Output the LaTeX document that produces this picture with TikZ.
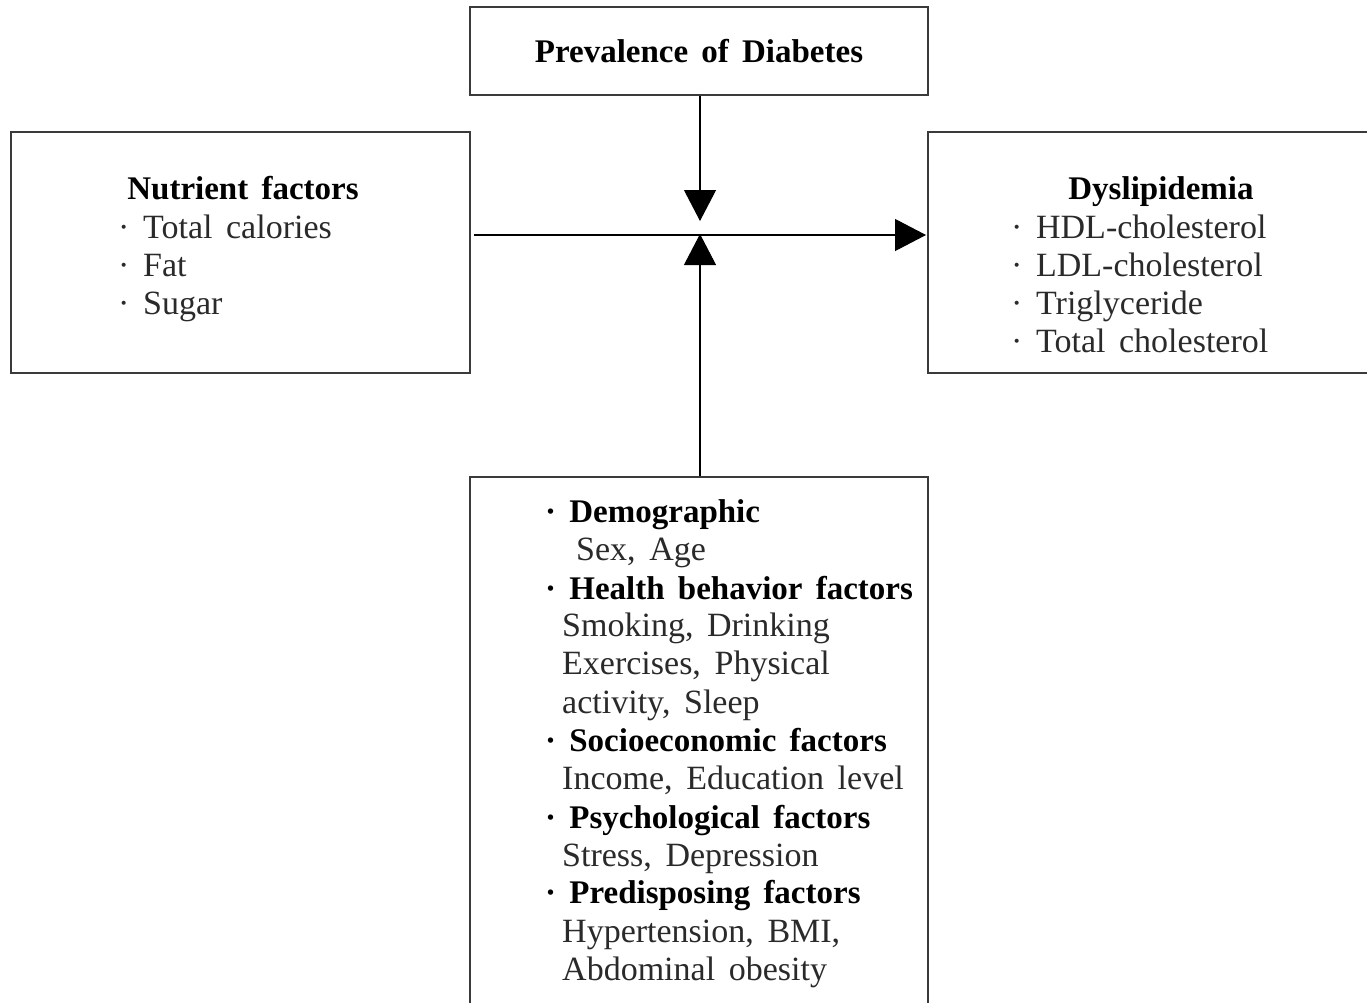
\documentclass[tikz,border=0pt]{standalone}
\usepackage{fontspec}
\setmainfont{Liberation Serif}[WordSpace=1.6]
\usetikzlibrary{arrows.meta}
\definecolor{txt}{HTML}{2A2A2A}
\definecolor{frame}{HTML}{3A3A3A}
\tikzset{
  box/.style={draw=frame, line width=1.1pt, inner sep=0pt},
  hd/.style={inner sep=0pt, anchor=base, font=\fontsize{33}{38}\selectfont\bfseries, text=black},
  hb/.style={inner sep=0pt, anchor=base west, font=\fontsize{33}{38}\selectfont\bfseries, text=black},
  ln/.style={inner sep=0pt, anchor=base west, font=\fontsize{34}{38}\selectfont, text=txt},
  conn/.style={line width=1.1pt, draw=black},
  tip/.style={-{Triangle[length=31pt,width=32pt]}}
}
\begin{document}
\begin{tikzpicture}[x=1pt,y=-1pt]
\useasboundingbox (0,0) rectangle (1367,1002);
\clip (0,0) rectangle (1367,1002);
% boxes
\node[box, minimum width=458pt, minimum height=88pt] (top) at (699,51) {};
\node[box, minimum width=459pt, minimum height=241pt] (left) at (240.5,252.5) {};
\node[box, minimum width=472pt, minimum height=241pt] (right) at (1164,252.5) {};
\node[box, minimum width=458pt, minimum height=563pt] (bottom) at (699,758.5) {};
% texts
\node[hd] (t1) at (699,62) {Prevalence of Diabetes};
\node[hd] (l0) at (243,199) {Nutrient factors};
\node[ln] (l1) at (118,238) {·\ Total calories};
\node[ln] (l2) at (118,276) {·\ Fat};
\node[ln] (l3) at (118,314) {·\ Sugar};
\node[hd] (r0) at (1161,199) {Dyslipidemia};
\node[ln] (r1) at (1011,238) {·\ HDL-cholesterol};
\node[ln] (r2) at (1011,276) {·\ LDL-cholesterol};
\node[ln] (r3) at (1011,314) {·\ Triglyceride};
\node[ln] (r4) at (1011,352) {·\ Total cholesterol};
\node[hb] (b1) at (545,522) {·\ Demographic};
\node[ln] (b2) at (576,560) {Sex, Age};
\node[hb] (b3) at (545,599) {·\ Health behavior factors};
\node[ln] (b4) at (562,636) {Smoking, Drinking};
\node[ln] (b5) at (562,674) {Exercises, Physical};
\node[ln] (b6) at (562,713) {activity, Sleep};
\node[hb] (b7) at (545,751) {·\ Socioeconomic factors};
\node[ln] (b8) at (562,789) {Income, Education level};
\node[hb] (b9) at (545,828) {·\ Psychological factors};
\node[ln] (b10) at (562,866) {Stress, Depression};
\node[hb] (b11) at (545,903) {·\ Predisposing factors};
\node[ln] (b12) at (562,942) {Hypertension, BMI,};
\node[ln] (b13) at (562,980) {Abdominal obesity};
% connectors
\coordinate (jt) at (700,221);
\coordinate (jb) at (700,234);
\coordinate (hs) at (474,235);
\coordinate (he) at (926,235);
\draw[conn,tip] (top.south -| jt) -- (jt);
\draw[conn,tip] (bottom.north -| jb) -- (jb);
\draw[conn,tip] (hs) -- (he);
\end{tikzpicture}
\end{document}
